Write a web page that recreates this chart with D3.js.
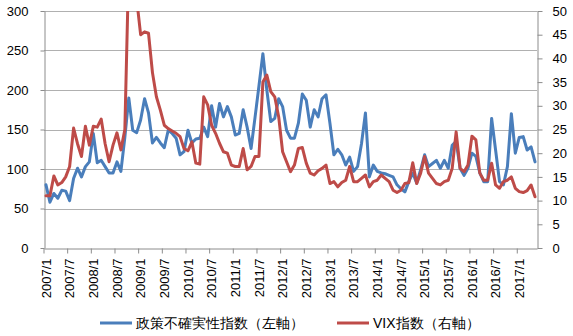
<!DOCTYPE html>
<html>
<head>
<meta charset="utf-8">
<script src="https://cdn.jsdelivr.net/npm/d3@7"></script>
<style>
  html, body { margin: 0; padding: 0; background: #fff; }
  svg { display: block; }
  text { font-family: "Liberation Sans", Arial, sans-serif; }
</style>
</head>
<body>
<svg id="chart" width="573" height="336"></svg>
<script>
// ---- Data ----
// Monthly categories 2007/1 .. 2017/5
const categories = [];
for (let y = 2007; y <= 2017; y++) {
  for (let m = 1; m <= 12; m++) {
    if (y === 2017 && m > 5) break;
    categories.push(y + "/" + m);
  }
}

// Policy uncertainty index (left axis)
const epuValues = [
  80, 58, 69, 63, 73, 72, 60, 88, 101, 90, 103, 109,
  145, 108, 111, 103, 95, 95, 109, 97, 140, 190, 149, 146,
  162, 189, 171, 133, 140, 133, 127, 149, 145, 139, 118, 122,
  149, 133, 138, 139, 153, 141, 180, 153, 183, 166, 179, 166,
  143, 145, 175, 153, 126, 165, 205, 246, 200, 160, 164, 189,
  179, 149, 139, 139, 158, 195, 187, 153, 175, 166, 189, 194,
  158, 118, 125, 118, 105, 115, 97, 103, 132, 171, 90, 105,
  97, 95, 94, 92, 90, 80, 75, 71, 84, 95, 82, 99,
  118, 103, 107, 111, 101, 111, 101, 130, 135, 101, 92, 101,
  120, 116, 95, 84, 84, 164, 124, 84, 80, 103, 170, 120,
  140, 141, 124, 128, 109
];

// VIX index (right axis)
const vixValues = [
  11.0, 11.0, 15.2, 13.3, 13.8, 15.0, 17.2, 25.3, 22.0, 19.3, 25.7, 21.7,
  25.7, 25.5, 27.2, 22.0, 18.2, 21.7, 24.3, 20.7, 25.0, 60.0, 61.0, 52.5,
  45.0, 45.6, 45.3, 37.0, 31.9, 29.1, 25.9, 25.2, 24.7, 24.2, 23.5, 21.0,
  20.5, 22.4, 17.9, 17.7, 31.9, 30.2, 25.9, 24.2, 22.1, 20.3, 20.0, 17.5,
  17.2, 17.2, 21.0, 16.5, 17.2, 19.3, 19.3, 35.0, 36.5, 33.0, 31.9, 27.7,
  20.3, 18.2, 16.1, 17.5, 21.0, 21.2, 17.9, 15.8, 15.4, 16.3, 16.8, 17.5,
  13.6, 14.0, 12.9, 13.8, 14.3, 17.2, 14.0, 14.0, 14.7, 15.4, 12.9, 14.0,
  14.3, 15.4, 14.7, 14.0, 12.2, 11.7, 12.2, 13.6, 13.8, 18.0, 13.6, 15.8,
  19.3, 15.8, 14.7, 13.6, 13.3, 14.0, 14.3, 16.8, 24.5, 16.8, 16.1, 17.5,
  23.6, 22.8, 15.8, 14.3, 14.3, 17.9, 13.3, 12.6, 14.0, 14.3, 15.0, 12.6,
  11.9, 11.7, 12.1, 13.3, 10.8
];

const leftTicks = [0, 50, 100, 150, 200, 250, 300];
const rightTicks = [0, 5, 10, 15, 20, 25, 30, 35, 40, 45, 50];
const xTickLabels = categories.filter((c, i) => i % 6 === 0);

const seriesNames = ["政策不確実性指数（左軸）", "VIX指数（右軸）"];
const colors = ["#4a7ebb", "#be4b48"];

// ---- Layout ----
const plot = { left: 44, right: 537, top: 11, bottom: 248 };
const svg = d3.select("#chart");

const x = d3.scaleBand().domain(categories).range([plot.left, plot.right]).paddingInner(0).paddingOuter(0);
const xc = d => x(d) + x.bandwidth() / 2;
const yL = d3.scaleLinear().domain([0, 300]).range([plot.bottom, plot.top]);
const yR = d3.scaleLinear().domain([0, 50]).range([plot.bottom, plot.top]);

// gridlines
svg.append("g").selectAll("line").data(leftTicks.filter(t => t > 0)).join("line")
  .attr("x1", plot.left).attr("x2", plot.right)
  .attr("y1", d => Math.round(yL(d)) + 0.5).attr("y2", d => Math.round(yL(d)) + 0.5)
  .attr("stroke", "#b0b0b0").attr("stroke-width", 1);

// left axis
const gL = svg.append("g").attr("transform", `translate(${plot.left + 0.5},0)`)
  .call(d3.axisLeft(yL).tickValues(leftTicks).tickSize(4).tickPadding(12).tickSizeOuter(0));
// right axis
const gR = svg.append("g").attr("transform", `translate(${plot.right + 0.5},0)`)
  .call(d3.axisRight(yR).tickValues(rightTicks).tickSize(5).tickPadding(10).tickSizeOuter(0));
[gL, gR].forEach(g => {
  g.select(".domain").attr("stroke", "#8c8c8c");
  g.selectAll(".tick line").attr("stroke", "#8c8c8c");
  g.selectAll(".tick text").attr("font-size", 13).attr("fill", "#000")
    .attr("font-family", '"Liberation Sans", Arial, sans-serif');
});

// bottom axis
const gB = svg.append("g").attr("transform", `translate(0,${plot.bottom + 0.5})`)
  .call(d3.axisBottom(x).tickValues(xTickLabels).tickSize(5).tickSizeOuter(0));
gB.select(".domain").attr("stroke", "#8c8c8c");
gB.selectAll(".tick line").attr("stroke", "#8c8c8c")
  .attr("x1", -x.bandwidth() / 2).attr("x2", -x.bandwidth() / 2);
gB.selectAll(".tick text")
  .attr("font-size", 13).attr("fill", "#000")
  .attr("font-family", '"Liberation Sans", Arial, sans-serif')
  .attr("transform", "rotate(-90)")
  .attr("text-anchor", "end")
  .attr("x", -10).attr("y", 0).attr("dy", "0.36em");

// clip
svg.append("clipPath").attr("id", "plotclip").append("rect")
  .attr("x", plot.left).attr("y", plot.top)
  .attr("width", plot.right - plot.left).attr("height", plot.bottom - plot.top);

const lineL = d3.line().x((d, i) => xc(categories[i])).y(d => yL(d));
const lineR = d3.line().x((d, i) => xc(categories[i])).y(d => yR(d));

const gLines = svg.append("g").attr("clip-path", "url(#plotclip)");
gLines.append("path").datum(epuValues).attr("d", lineL)
  .attr("fill", "none").attr("stroke", colors[0]).attr("stroke-width", 3)
  .attr("stroke-linejoin", "round").attr("stroke-linecap", "round");
gLines.append("path").datum(vixValues).attr("d", lineR)
  .attr("fill", "none").attr("stroke", colors[1]).attr("stroke-width", 3)
  .attr("stroke-linejoin", "round").attr("stroke-linecap", "round");

// legend
const legendItems = [
  { name: seriesNames[0], color: colors[0], x: 100 },
  { name: seriesNames[1], color: colors[1], x: 337 }
];
const lg = svg.append("g");
legendItems.forEach(it => {
  lg.append("line").attr("x1", it.x).attr("x2", it.x + 32)
    .attr("y1", 323).attr("y2", 323)
    .attr("stroke", it.color).attr("stroke-width", 3);
  lg.append("text").attr("x", it.x + 36).attr("y", 323).attr("dy", "0.36em")
    .attr("font-size", 14).attr("fill", "#000")
    .attr("font-family", '"Noto Sans CJK JP", "Noto Sans", sans-serif')
    .text(it.name);
});
</script>
</body>
</html>
